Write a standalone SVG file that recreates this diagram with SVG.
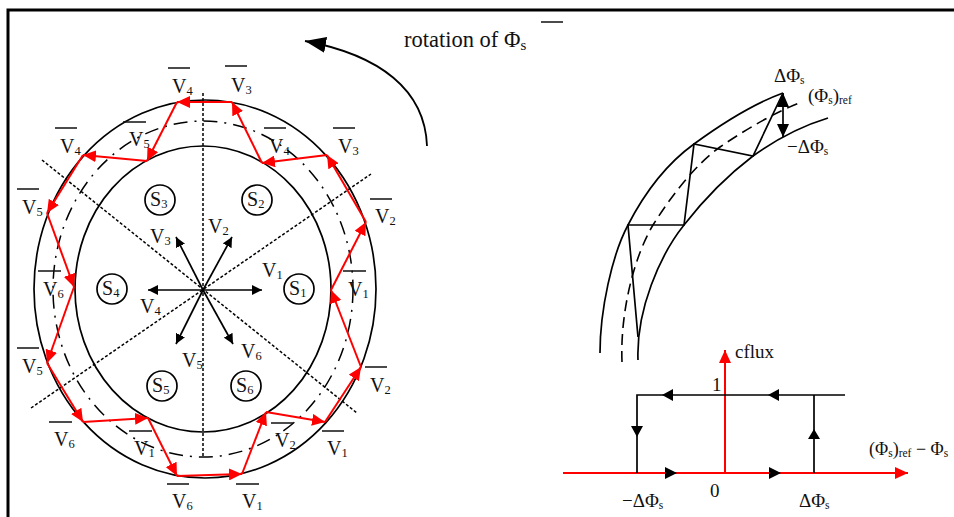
<svg xmlns="http://www.w3.org/2000/svg" width="954" height="517" viewBox="0 0 954 517">
<style>
text{font-family:"Liberation Serif","Times New Roman",serif;fill:#111;font-size:20px}
.s{font-size:12.5px}
.l{font-size:19px}
.ls{font-size:11.5px}
.b{stroke:#111;stroke-width:1.6;fill:none}
.k{stroke:#000;stroke-width:1.7;fill:none}
.d{stroke:#000;stroke-width:1.5;fill:none;stroke-dasharray:3 2}
.dd{stroke:#000;stroke-width:1.5;fill:none;stroke-dasharray:14 7 2 7}
.da{stroke:#000;stroke-width:1.6;fill:none;stroke-dasharray:11 6}
.r{stroke:#f00;stroke-width:2;fill:none;marker-end:url(#ar)}
.c{stroke:#000;stroke-width:1.7;fill:#fff}
.sp{stroke:#000;stroke-width:1.7;fill:none;marker-end:url(#ak)}
</style>
<defs>
<marker id="ar" markerUnits="userSpaceOnUse" markerWidth="14" markerHeight="12" refX="13" refY="6" orient="auto"><path d="M0 0L13 6L0 12Z" fill="#f00"/></marker>
<marker id="ak" markerUnits="userSpaceOnUse" markerWidth="11" markerHeight="10" refX="10" refY="5" orient="auto"><path d="M0 0L10 5L0 10Z" fill="#000"/></marker>
<marker id="abig" markerUnits="userSpaceOnUse" markerWidth="22" markerHeight="16" refX="21" refY="8" orient="auto"><path d="M0 0L21 8L0 16Z" fill="#000"/></marker>
</defs>
<rect width="954" height="517" fill="#fff"/>
<g id="frame"><path d="M8 517V10H954" fill="none" stroke="#000" stroke-width="3"/></g>

<g id="flux-circles">
<ellipse cx="205" cy="289" rx="171" ry="189" class="k"/>
<ellipse cx="203" cy="289" rx="128" ry="143" class="k"/>
<ellipse cx="203" cy="289" rx="150" ry="168" class="dd"/>
</g>
<g id="sector-lines">
<path class="d" d="M203 93V457"/>
<path class="d" d="M42 160L357 413"/>
<path class="d" d="M31 408L371 174"/>
</g>

<g id="connectors">
<path class="sp" d="M203 290H262"/>
<path class="sp" d="M203 290H148"/>
<path class="sp" d="M203 290L232 237"/>
<path class="sp" d="M203 290L176 237"/>
<path class="sp" d="M203 290L176 344"/>
<path class="sp" d="M203 290L233 344"/>
<path class="r" d="M331 290L366 222"/>
<path class="r" d="M366 222L327 155"/>
<path class="r" d="M327 155L262 163"/>
<path class="r" d="M262 163L232 102"/>
<path class="r" d="M232 102L177 102"/>
<path class="r" d="M177 102L147 161"/>
<path class="r" d="M147 161L83 155"/>
<path class="r" d="M83 155L47 213"/>
<path class="r" d="M47 213L74 287"/>
<path class="r" d="M74 287L47 363"/>
<path class="r" d="M47 363L83 422"/>
<path class="r" d="M83 422L148 418"/>
<path class="r" d="M148 418L177 476"/>
<path class="r" d="M177 476L242 474"/>
<path class="r" d="M242 474L266 412"/>
<path class="r" d="M266 412L325 422"/>
<path class="r" d="M325 422L361 367"/>
<path class="r" d="M361 367L331 290"/>
<path d="M427 146C425 90 380 55 305 41" fill="none" stroke="#000" stroke-width="1.8" marker-end="url(#abig)"/>
</g>

<g id="S1"><circle class="c" cx="299" cy="289" r="15"/><text x="289" y="295">S<tspan class="s" dy="2">1</tspan></text></g>
<g id="S2"><circle class="c" cx="257" cy="200" r="15"/><text x="247" y="206">S<tspan class="s" dy="2">2</tspan></text></g>
<g id="S3"><circle class="c" cx="160" cy="200" r="15"/><text x="150" y="206">S<tspan class="s" dy="2">3</tspan></text></g>
<g id="S4"><circle class="c" cx="112" cy="289" r="15"/><text x="102" y="295">S<tspan class="s" dy="2">4</tspan></text></g>
<g id="S5"><circle class="c" cx="162" cy="386" r="15"/><text x="152" y="392">S<tspan class="s" dy="2">5</tspan></text></g>
<g id="S6"><circle class="c" cx="246" cy="386" r="15"/><text x="236" y="392">S<tspan class="s" dy="2">6</tspan></text></g>

<g id="spoke-labels">
<text x="262" y="277">V<tspan class="s" dy="2">1</tspan></text>
<text x="208" y="233">V<tspan class="s" dy="2">2</tspan></text>
<text x="150" y="243">V<tspan class="s" dy="2">3</tspan></text>
<text x="140" y="313">V<tspan class="s" dy="2">4</tspan></text>
<text x="182" y="367">V<tspan class="s" dy="2">5</tspan></text>
<text x="241" y="358">V<tspan class="s" dy="2">6</tspan></text>
</g>

<g id="state-labels">
<path class="b" d="M168 68H190M123 122H146M55 128H77M17 189H39M38 271H61M17 348H39M49 422H72M129 431H152M167 484H189M236 484H259M271 423H293M322 431H344M365 367H387M343 271H366M370 199H392M333 128H355M264 128H286M225 66H247M541 22H563"/>
<text x="172" y="93">V<tspan class="s" dy="2">4</tspan></text>
<text x="129" y="146">V<tspan class="s" dy="2">5</tspan></text>
<text x="60" y="153">V<tspan class="s" dy="2">4</tspan></text>
<text x="22" y="214">V<tspan class="s" dy="2">5</tspan></text>
<text x="43" y="296">V<tspan class="s" dy="2">6</tspan></text>
<text x="22" y="373">V<tspan class="s" dy="2">5</tspan></text>
<text x="54" y="446">V<tspan class="s" dy="2">6</tspan></text>
<text x="134" y="455">V<tspan class="s" dy="2">1</tspan></text>
<text x="172" y="508">V<tspan class="s" dy="2">6</tspan></text>
<text x="242" y="508">V<tspan class="s" dy="2">1</tspan></text>
<text x="275" y="447">V<tspan class="s" dy="2">2</tspan></text>
<text x="327" y="455">V<tspan class="s" dy="2">1</tspan></text>
<text x="370" y="392">V<tspan class="s" dy="2">2</tspan></text>
<text x="348" y="296">V<tspan class="s" dy="2">1</tspan></text>
<text x="375" y="223">V<tspan class="s" dy="2">2</tspan></text>
<text x="338" y="153">V<tspan class="s" dy="2">3</tspan></text>
<text x="269" y="153">V<tspan class="s" dy="2">4</tspan></text>
<text x="231" y="92">V<tspan class="s" dy="2">3</tspan></text>
</g>

<g id="rotation-label"><text x="404" y="47" style="font-size:22.5px">rotation of Φ<tspan style="font-size:15px" dy="3">s</tspan></text></g>

<g id="band-detail">
<path class="k" d="M600 353C600 310 612 255 628 225C645 192 665 165 694 144C720 125 750 105 783 93"/>
<path class="k" d="M638 360C636 310 660 255 684 225C705 198 728 175 753 156C778 138 805 125 828 118"/>
<path class="da" d="M622 362C620 310 635 255 653 225C672 195 695 165 720 147C745 130 775 112 802 102"/>
<path class="k" d="M638 337L628 225H684L694 144L753 156L783 93"/>
<path class="k" d="M783 93V137"/>
<path d="M783 93L789 107H777Z M783 137L777 124H789Z" fill="#000"/>
<text class="l" x="774" y="82">ΔΦ<tspan class="ls" dy="2">s</tspan></text>
<text class="l" x="808" y="102">(Φ<tspan class="ls" dy="2">s</tspan><tspan dy="-2">)</tspan><tspan class="ls" dy="2">ref</tspan></text>
<text class="l" x="787" y="153">−ΔΦ<tspan class="ls" dy="2">s</tspan></text>
</g>

<g id="hysteresis">
<path d="M563 473H908" stroke="#f00" stroke-width="2" fill="none" marker-end="url(#ar)"/>
<path d="M725 473V350" stroke="#f00" stroke-width="2" fill="none" marker-end="url(#ar)"/>
<path class="k" d="M845 395H637V473"/>
<path class="k" d="M814 473V395"/>
<path d="M662 395L673 389V401Z M768 395L779 389V401Z M637 437L631 426H643Z M814 429L808 439H820Z M677 473L665 467V479Z M781 473L769 467V479Z" fill="#000"/>
<text class="l" x="735" y="358">cflux</text>
<text class="l" x="712" y="391">1</text>
<text class="l" x="710" y="497">0</text>
<text class="l" x="622" y="507">−ΔΦ<tspan class="ls" dy="2">s</tspan></text>
<text class="l" x="799" y="507">ΔΦ<tspan class="ls" dy="2">s</tspan></text>
<text class="l" x="869" y="455" style="font-size:18px">(Φ<tspan class="ls" dy="2">s</tspan><tspan dy="-2">)</tspan><tspan class="ls" dy="2">ref</tspan><tspan dy="-2"> − Φ</tspan><tspan class="ls" dy="2">s</tspan></text>
</g>
</svg>
